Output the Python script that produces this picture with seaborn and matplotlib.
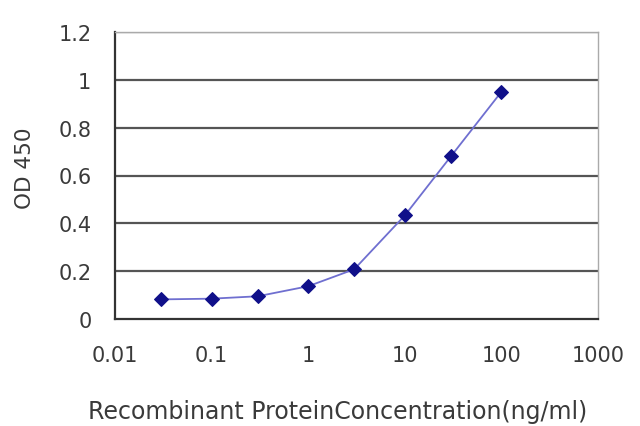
import numpy as np
import pandas as pd
import matplotlib
matplotlib.use("Agg")
import matplotlib.pyplot as plt
import seaborn as sns

# values
concentration = [0.03, 0.1, 0.3, 1, 3, 10, 30, 100]
od450 = [0.082, 0.085, 0.095, 0.137, 0.208, 0.433, 0.68, 0.95]
x_ticks = [0.01, 0.1, 1, 10, 100, 1000]
x_tick_labels = ["0.01", "0.1", "1", "10", "100", "1000"]
y_ticks = [0, 0.2, 0.4, 0.6, 0.8, 1.0, 1.2]
y_tick_labels = ["0", "0.2", "0.4", "0.6", "0.8", "1", "1.2"]

df = pd.DataFrame({"conc": concentration, "od": od450})

sns.set_style("white")
plt.rcParams["font.family"] = ["DejaVu Sans"]

fig = plt.figure(figsize=(6.4, 4.27), dpi=100)
ax = fig.add_axes([115 / 640, 1 - 320 / 427, (598 - 115) / 640, (320 - 33) / 427])

for y in y_ticks[1:]:
    ax.axhline(y, color="#555555", lw=1.6, zorder=1)

sns.lineplot(data=df, x="conc", y="od", ax=ax, color="#6f6fd0", lw=1.3,
             marker="D", markersize=7, markerfacecolor="#10108a",
             markeredgecolor="#10108a", zorder=3)

ax.set_xscale("log")
ax.set_xlim(0.01, 1000)
ax.set_ylim(0, 1.2)
ax.set_xticks(x_ticks)
ax.set_xticklabels(x_tick_labels)
ax.set_yticks(y_ticks)
ax.set_yticklabels(y_tick_labels)
ax.minorticks_off()
ax.tick_params(axis="x", direction="out", length=4, color="#444444",
               labelsize=15, labelcolor="#3a3a3a", pad=15)
ax.tick_params(axis="y", direction="out", length=4, color="#444444",
               labelsize=15, labelcolor="#3a3a3a", pad=13)

for side in ["left", "bottom"]:
    ax.spines[side].set_color("#333333")
    ax.spines[side].set_linewidth(1.6)
for side in ["top", "right"]:
    ax.spines[side].set_color("#aaaaaa")
    ax.spines[side].set_linewidth(1.0)

ax.set_xlabel("Recombinant ProteinConcentration(ng/ml)", fontsize=17,
              color="#3a3a3a")
ax.xaxis.set_label_coords(0.46, -0.28)
ax.set_ylabel("OD 450", fontsize=15.5, color="#3a3a3a")
ax.yaxis.set_label_coords(-0.165, 0.53)

fig.savefig("out.png", dpi=100)
